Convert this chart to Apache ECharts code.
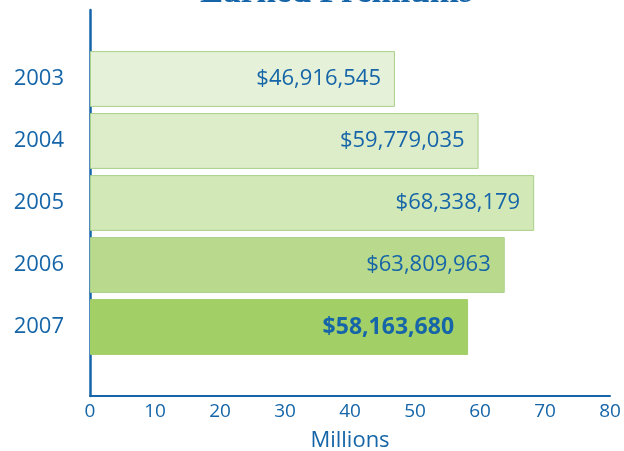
<!DOCTYPE html>
<html>
<head>
<meta charset="utf-8">
<script src="https://cdn.jsdelivr.net/npm/echarts@6/dist/echarts.min.js"></script>
<style>
  html, body { margin: 0; padding: 0; background: #ffffff; }
  #chart { width: 624px; height: 451px; }
</style>
</head>
<body>
<div id="chart"></div>
<script>
// Earned premiums by year (dollars)
const years = ['2003', '2004', '2005', '2006', '2007'];
const premiums = [46916545, 59779035, 68338179, 63809963, 58163680];
const barFills = ['#e5f1d8', '#ddecc9', '#d3e8b7', '#b9da8c', '#a2cf66'];
const xTicks = [0, 10, 20, 30, 40, 50, 60, 70, 80];

const blue = '#1565a8';
const labelFont = 'Open Sans';

const fmtDollars = v => '$' + v.toLocaleString('en-US');

const chart = echarts.init(document.getElementById('chart'), null, { renderer: 'canvas' });

const last = premiums.length - 1;
const data = premiums.map((v, i) => ({
  value: v / 1e6,
  itemStyle: {
    color: barFills[i],
    borderColor: i === last ? barFills[i] : '#a9d18a',
    borderWidth: 1
  },
  label: {
    formatter: fmtDollars(v),
    fontWeight: i === last ? 'bold' : 'normal',
    fontSize: i === last ? 23 : 22
  }
}));

chart.setOption({
  animation: false,
  title: {
    text: 'Earned Premiums',
    left: 195,
    top: -30,
    textStyle: { fontFamily: 'Liberation Serif', fontSize: 35, fontWeight: 'bold', color: blue }
  },
  grid: [
    { left: 90, right: 14, top: 48, bottom: 93, outerBoundsMode: 'none' },   // bars
    { left: 90, right: 14, top: 10, bottom: 55, outerBoundsMode: 'none' }    // axis frame
  ],
  xAxis: [
    { gridIndex: 0, type: 'value', min: 0, max: 80, show: false },
    {
      gridIndex: 1, type: 'value', min: 0, max: 80, interval: 10,
      axisLine: { show: true, lineStyle: { color: blue, width: 2 } },
      axisTick: { show: false },
      splitLine: { show: false },
      axisLabel: {
        margin: 6, color: blue, fontFamily: labelFont, fontSize: 19,
        formatter: v => xTicks.includes(v) ? String(v) : ''
      },
      name: 'Millions',
      nameLocation: 'middle',
      nameGap: 34,
      nameTextStyle: { color: blue, fontFamily: labelFont, fontSize: 22 }
    }
  ],
  yAxis: [
    {
      gridIndex: 0, type: 'category', data: years, inverse: true,
      axisLine: { show: false }, axisTick: { show: false },
      axisLabel: { margin: 26, color: blue, fontFamily: labelFont, fontSize: 22 }
    },
    {
      gridIndex: 1, type: 'category', data: [''],
      axisLine: { show: true, lineStyle: { color: blue, width: 2.5 } },
      axisTick: { show: false }, axisLabel: { show: false }
    }
  ],
  series: [{
    type: 'bar',
    xAxisIndex: 0, yAxisIndex: 0,
    data: data,
    barCategoryGap: '10%',
    label: {
      show: true,
      position: 'insideRight',
      distance: 14,
      color: blue,
      fontFamily: labelFont
    }
  }]
});
</script>
</body>
</html>
